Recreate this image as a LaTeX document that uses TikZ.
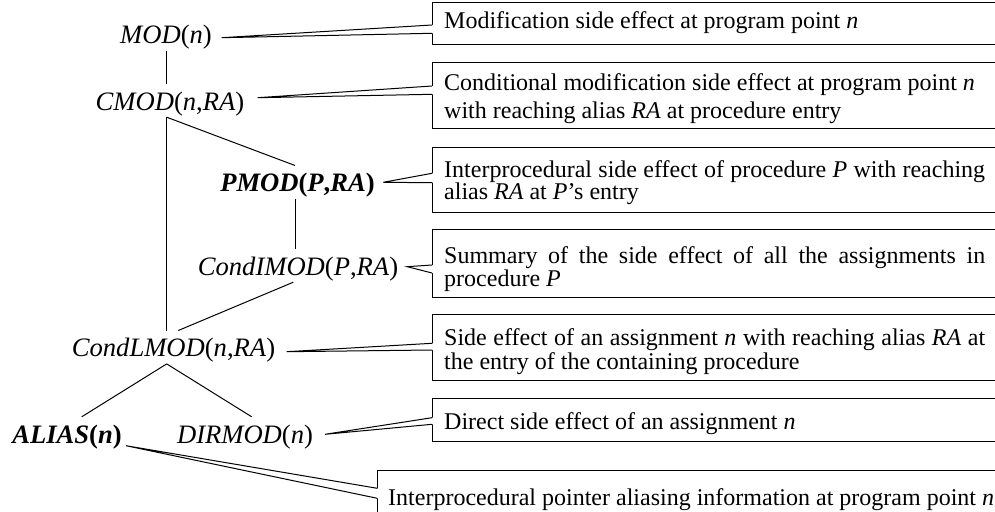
\documentclass[tikz,border=0pt]{standalone}
\usepackage{fontspec}
\setmainfont{Liberation Serif}
% pointer wedge from a callout box to a tip: #1 box, #2 tip, #3/#4 depths of the wedge below the box top
\newcommand\calloutwedge[4]{%
  \coordinate (#1-u) at ([yshift=-#3pt]#1.north west);
  \coordinate (#1-l) at ([yshift=-#4pt]#1.north west);
  \fill[white] (#2) -- (#1-u) -- ([xshift=2pt]#1-u) -- ([xshift=2pt]#1-l) -- (#1-l) -- cycle;
  \draw[callline] (#1-u) -- (#2) -- (#1-l);
}
\begin{document}
\begin{tikzpicture}[x=1pt,y=-1pt,
  lab/.style={inner sep=0pt,text height=26pt,text depth=7pt,anchor=base,
    font=\fontsize{26.6}{30}\selectfont},
  txt/.style={inner sep=0pt,anchor=base west,font=\fontsize{24}{26}\selectfont},
  callbox/.style={draw=black,line width=1pt,rectangle,inner sep=0pt,
    anchor=north west,minimum width=620pt},
  callline/.style={black,line width=1pt},
  branch/.style={black,line width=1pt}]
\useasboundingbox (0,0) rectangle (995,511);
\clip (0,0) rectangle (995,511);

% the term hierarchy
\node[lab] (mod)    at (166,44)    {\textit{MOD}(\textit{n})};
\node[lab] (cmod)   at (170,110)   {\textit{CMOD}(\textit{n},\textit{RA})};
\node[lab] (pmod)   at (297.5,191.7) {\bfseries\textit{PMOD}(\textit{P},\textit{RA})};
\node[lab] (condi)  at (298,275)   {\textit{CondIMOD}(\textit{P},\textit{RA})};
\node[lab] (condl)  at (173.5,356.7) {\textit{CondLMOD}(\textit{n},\textit{RA})};
\node[lab] (alias)  at (67,443)    {\bfseries\textit{ALIAS}(\textit{n})};
\node[lab] (dirmod) at (245,443)   {\textit{DIRMOD}(\textit{n})};

\coordinate (cm) at ([xshift=-3.3pt]cmod.south);
\coordinate (pm) at ([xshift=-2.5pt]pmod.south);
\coordinate (cl) at ([xshift=-6.8pt]condl.south);
\draw[branch] (mod.south) -- (mod.south |- cmod.north);
\draw[branch] (cm) -- ([xshift=-2.5pt]pmod.north);
\draw[branch] (cm) -- (cm |- condl.north);
\draw[branch] (pm) -- (pm |- condi.north);
\draw[branch] ([xshift=-4.7pt]condi.south) -- ([xshift=4.8pt]condl.north);
\draw[branch] (cl) -- ([xshift=14.7pt]alias.north);
\draw[branch] (cl) -- ([xshift=6.7pt]dirmod.north);

% explanation boxes
\node[callbox,minimum height=42.6pt] (b1) at (432,1.7) {};
\node[callbox,minimum height=66pt]   (b2) at (432,61.7) {};
\node[callbox,minimum height=65pt]   (b3) at (432,146.7) {};
\node[callbox,minimum height=67.4pt] (b4) at (432,229.3) {};
\node[callbox,minimum height=66pt]   (b5) at (432,314) {};
\node[callbox,minimum height=42.4pt] (b6) at (432,398.3) {};
\node[callbox,minimum height=70pt]   (b7) at (377.3,470) {};

% wedge tips next to the terms
\coordinate (t1) at (221.7,37.7);
\coordinate (t2) at (257.7,97.7);
\coordinate (t3) at (383.3,182.3);
\coordinate (t4) at (407.3,266.7);
\coordinate (t5) at (286.7,351.7);
\coordinate (t6) at (325,434.3);
\coordinate (t7) at (126,445.7);

\calloutwedge{b1}{t1}{23.3}{31.6}
\calloutwedge{b2}{t2}{24.3}{32.6}
\calloutwedge{b3}{t3}{26.6}{36}
\calloutwedge{b4}{t4}{35.7}{43.7}
\calloutwedge{b5}{t5}{29.3}{36}
\calloutwedge{b6}{t6}{19.4}{26}
\calloutwedge{b7}{t7}{18.3}{28.3}

% box texts
\node[txt] (b1a) at (444,28.5) {Modification side effect at program point \textit{n}};
\node[txt] (b2a) at (444,90) {Conditional modification side effect at program point \textit{n}};
\node[txt] (b2b) at (444,118) {with reaching alias \textit{RA} at procedure entry};
\node[txt] (b3a) at (444,177) {\makebox[541pt][s]{Interprocedural side effect of procedure \textit{P} with reaching}};
\node[txt] (b3b) at (444,199.5) {alias \textit{RA} at \textit{P}{\char"27}s entry};
\node[txt] (b4a) at (444,263) {\makebox[541pt][s]{Summary of the side effect of all the assignments in}};
\node[txt] (b4b) at (444,286) {procedure \textit{P}};
\node[txt] (b5a) at (444,345) {\makebox[541pt][s]{Side effect of an assignment \textit{n} with reaching alias \textit{RA} at}};
\node[txt] (b5b) at (444,369) {the entry of the containing procedure};
\node[txt] (b6a) at (444,429.5) {Direct side effect of an assignment \textit{n}};
\node[txt] (b7a) at (388,505) {Interprocedural pointer aliasing information at program point \textit{n}};
\end{tikzpicture}
\end{document}
